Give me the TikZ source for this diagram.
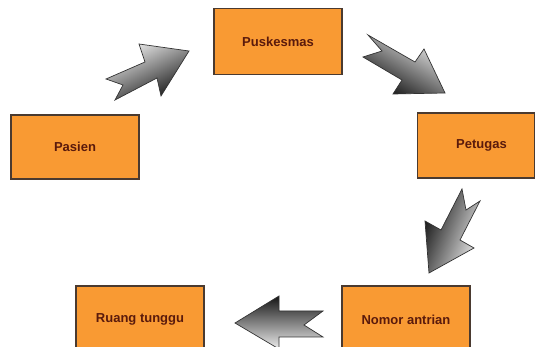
\documentclass[tikz,border=0pt]{standalone}
\usepackage{fontspec}
\setmainfont{Liberation Sans}
\definecolor{boxfill}{HTML}{F99A33}
\definecolor{boxline}{HTML}{4A3A30}
\definecolor{txt}{HTML}{5A1A0C}
\definecolor{adark}{HTML}{151515}
\definecolor{alight}{HTML}{EDEDED}
\tikzset{
  stepbox/.style={draw=boxline, line width=1.2pt, fill=boxfill, minimum width=128pt, minimum height=66pt, inner sep=0pt, text=txt, font=\fontsize{13}{15}\selectfont\bfseries},
  blockarrow/.style={draw=black!80, line width=0.7pt, line join=miter, top color=adark, bottom color=alight}
}
\begin{document}
\begin{tikzpicture}[x=1pt,y=-1pt]
\useasboundingbox (0,0) rectangle (536,347);
\begin{scope}
\clip (0,0) rectangle (536,347);
\node[stepbox] (puskesmas) at (278,41.5) {Puskesmas};
\node[stepbox, minimum height=64pt] (pasien) at (75,147) {Pasien};
\node[stepbox, minimum width=117pt, minimum height=65pt] (petugas) at (476,145.5) {\hspace*{11pt}Petugas};
\node[stepbox, minimum height=67pt] (ruang) at (140,319.5) {Ruang tunggu};
\node[stepbox, minimum height=67pt] (nomor) at (406,319.5) {Nomor antrian};
\end{scope}
% block arrows
\shade[blockarrow, shading angle=206]
  (189,51) -- (139,44) -- (145,62) -- (106,79) -- (123,85) -- (115,100) -- (157,78) -- (161,96) -- cycle;
\shade[blockarrow, shading angle=150]
  (368,35) -- (415,62) -- (424,49) -- (445,93) -- (393,94) -- (402,80) -- (363,57) -- (382,51) -- cycle;
\shade[blockarrow, shading angle=69]
  (462,189) -- (441,230) -- (425,221) -- (429,273) -- (474,248) -- (460,240) -- (480,201) -- (466,210) -- cycle;
\shade[blockarrow, shading angle=0]
  (235,323) -- (279,296) -- (279,311) -- (323,311) -- (304,325) -- (323,337) -- (279,337) -- (279,349) -- cycle;
\end{tikzpicture}
\end{document}
